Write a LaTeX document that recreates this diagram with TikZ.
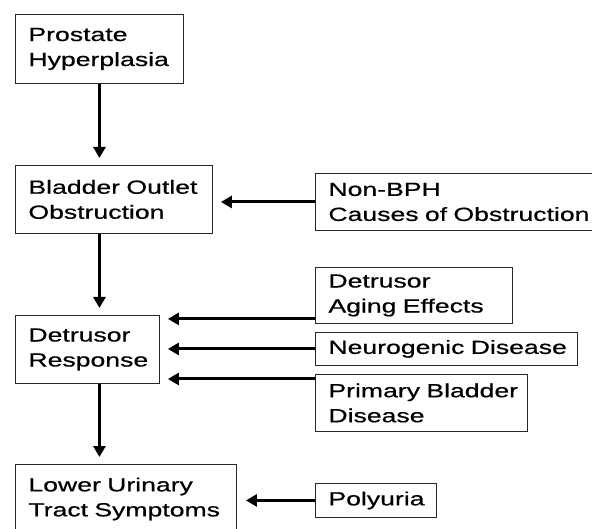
\documentclass[tikz,border=0pt]{standalone}
\usepackage{fontspec}
\setmainfont[FakeStretch=1.4,FakeBold=0.6]{Liberation Sans}
\usetikzlibrary{arrows.meta,calc}
\hyphenpenalty=10000
\exhyphenpenalty=10000
\begin{document}
\begin{tikzpicture}[x=1pt,y=-1pt,
  box/.style={draw=black!85, line width=0.9pt, rectangle, anchor=north west,
    align=left, inner xsep=13pt, inner ysep=0pt,
    font=\fontsize{19}{25}\selectfont},
  arr/.style={line width=3pt, -{Triangle[length=11pt,width=12pt]}, shorten >=7pt}
]
\useasboundingbox (0,0) rectangle (592,529);
\clip (0,0) rectangle (592,529);
\fill[white] (0,0) rectangle (592,529);

\node[box, minimum width=168pt, minimum height=69pt, text width=142pt] (A) at (15,14) {\mbox{Prostate}\\\mbox{Hyperplasia}};
\node[box, minimum width=197pt, minimum height=68pt, text width=171pt] (B) at (15,165) {\mbox{Bladder Outlet}\\\mbox{Obstruction}};
\node[box, minimum width=325pt, minimum height=57pt, text width=299pt] (C) at (315,173) {\mbox{Non-BPH}\\\mbox{Causes of Obstruction}};
\node[box, minimum width=144pt, minimum height=68pt, text width=118pt] (D) at (15,315) {\mbox{Detrusor}\\\mbox{Response}};
\node[box, minimum width=197pt, minimum height=56pt, text width=171pt] (E) at (315,267) {\mbox{Detrusor}\\\mbox{Aging Effects}};
\node[box, minimum width=262pt, minimum height=33pt, text width=236pt] (F) at (315,332) {\mbox{Neurogenic Disease}};
\node[box, minimum width=212pt, minimum height=57pt, text width=186pt] (G) at (315,374) {\mbox{Primary Bladder}\\\mbox{Disease}};
\node[box, minimum width=221pt, minimum height=69pt, text width=195pt] (H) at (15,464) {\mbox{Lower Urinary}\\\mbox{Tract Symptoms}};
\node[box, minimum width=121pt, minimum height=34pt, text width=95pt] (I) at (315,483) {\mbox{Polyuria}};

% vertical chain
\draw[arr] (A.south) -- (A.south |- B.north);
\draw[arr] (A.south |- B.south) -- (A.south |- D.north);
\draw[arr] (A.south |- D.south) -- (A.south |- H.north);

% side inputs
\draw[arr, shorten >=8pt] (C.west) -- (B.east |- C.west);
\coordinate (e) at ($(E.south west)+(0,-5)$);
\draw[arr, shorten >=8pt] (e) -- (D.east |- e);
\draw[arr, shorten >=8pt] (F.west) -- (D.east |- F.west);
\coordinate (g) at ($(G.north west)+(0,5)$);
\draw[arr, shorten >=8pt] (g) -- (D.east |- g);
\draw[arr, shorten >=9pt] (I.west) -- (H.east |- I.west);
\end{tikzpicture}
\end{document}
